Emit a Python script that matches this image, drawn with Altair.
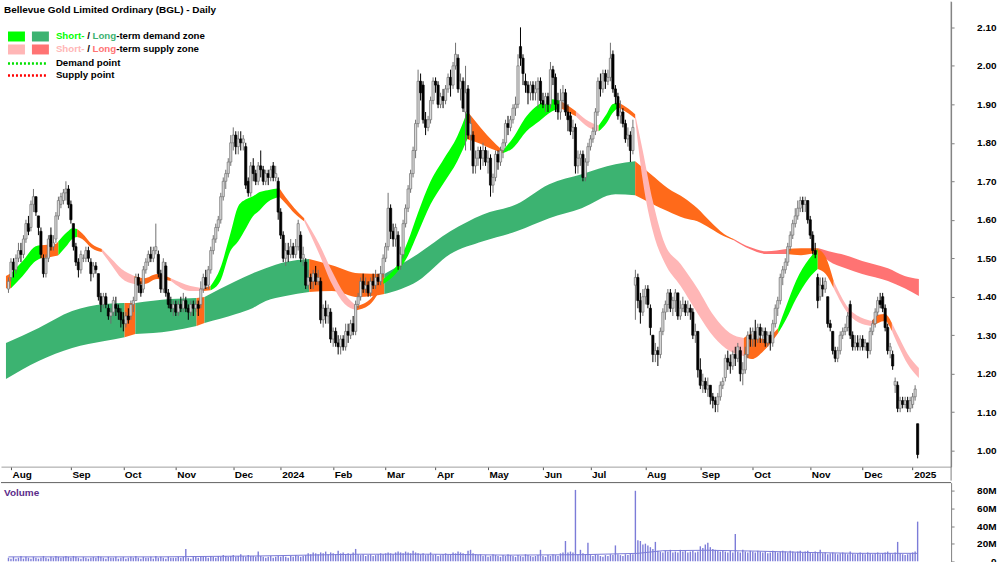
import altair as alt
import pandas as pd

FONT = "Liberation Sans"

# ---------------- daily prices (AUD cents), trading-day index 0 = 31 Jul 2023 ----------------
OPEN = [
    142,145,149,147,150,152,151,155,159,158,164,166,161,157,150,146,150,156,153,155,161,164,165,167,  # Aug 23
    168,164,159,153,149,147,150,150,152,149,146,148,146,140,138,140,137,135,136,138,137,              # Sep
    136,134,133,135,135,138,139,145,143,142,147,149,151,150,152,151,146,142,148,141,138,137,          # Oct
    138,136,138,137,139,137,136,138,137,138,138,142,145,143,147,152,155,158,160,166,170,172,          # Nov
    175,180,182,179,181,180,179,170,167,174,172,170,174,173,170,172,171,174,171,                      # Dec
    170,162,156,150,152,151,153,151,153,156,150,149,143,145,144,146,144,144,134,137,135,              # Jan 24
    136,129,131,128,127,129,127,131,130,133,131,138,140,144,142,143,141,144,143,145,144,              # Feb
    146,150,153,163,157,155,156,148,151,159,163,168,172,178,185,196,195,186,184,186,                  # Mar
    191,196,195,190,192,191,194,197,195,200,202,194,196,188,194,182,182,174,176,178,                  # Apr
    176,178,175,176,169,171,177,175,178,180,185,184,186,189,190,205,202,196,195,193,195,193,194,      # May
    196,191,190,192,190,199,197,190,188,191,193,188,187,183,184,174,176,177,171,                      # Jun
    175,179,181,183,188,196,194,198,196,197,203,194,192,187,188,185,181,182,178,143,145,139,136,      # Jul
    140,142,137,130,125,126,125,131,136,138,141,137,139,141,135,137,138,136,137,136,130,131,          # Aug
    121,117,118,116,117,114,113,112,114,117,119,124,123,122,125,124,126,120,121,125,130,              # Sep
    129,131,129,132,130,131,128,130,128,133,137,139,145,147,149,153,156,159,161,163,165,164,165,      # Oct
    160,156,152,145,140,143,142,140,133,131,126,124,126,130,131,132,138,130,127,128,127,              # Nov
    129,127,128,126,131,133,136,139,140,137,132,126,125,117,117,111,113,112,113,111,                  # Dec
    112,114,107,                                                                                      # Jan 25
]
HIGH = [
    145,150,150,151,154,154,156,160,161,165,168,166,161,158,151,151,156,158,156,162,166,167,168,170,
    169,165,159,154,150,152,151,153,153,150,149,149,146,141,141,141,138,137,140,140,138,
    137,136,136,137,139,140,146,146,144,148,150,152,153,153,159,152,147,150,149,142,140,139,
    139,139,140,141,140,138,139,139,139,139,144,146,147,148,153,156,159,161,167,171,173,176,
    182,184,183,183,183,182,180,171,175,176,173,175,178,174,173,173,174,175,174,
    171,163,157,154,154,155,154,155,160,157,153,150,147,146,147,148,147,145,138,139,138,
    137,132,132,130,130,130,133,133,134,135,139,141,145,146,145,144,145,146,147,146,148,
    151,154,167,164,159,159,157,153,160,164,169,173,179,186,199,198,196,188,187,192,
    197,197,196,193,194,195,198,199,201,206,203,198,197,200,195,187,183,178,179,179,
    180,179,178,177,172,178,178,179,181,186,187,187,190,192,203,210,203,198,196,196,196,196,197,
    197,193,193,193,201,200,198,193,194,195,194,190,188,186,185,178,178,178,176,
    180,182,184,189,197,198,199,199,199,206,204,195,193,191,189,186,184,183,186,147,146,141,142,
    143,143,138,130,128,127,132,137,139,142,142,140,142,141,139,140,139,139,138,137,133,131,
    124,120,119,119,117,115,114,115,118,119,125,126,125,126,127,128,127,123,127,131,132,
    132,134,133,133,132,132,131,131,134,138,140,146,148,150,154,157,160,163,165,166,166,166,165,
    161,157,154,146,145,145,145,140,134,131,127,127,131,132,133,136,139,131,130,130,130,
    130,129,128,132,134,137,140,141,141,138,133,128,126,119,118,114,114,114,114,114,
    115,117,107,
]
LOW = [
    141,144,145,146,149,149,150,154,156,157,162,161,156,150,145,145,149,152,152,154,160,163,164,165,
    163,159,152,148,145,146,149,149,149,144,145,146,139,136,137,137,134,133,135,135,134,
    132,131,132,133,134,136,139,141,140,141,146,148,149,149,151,145,141,141,140,137,136,135,
    135,135,136,136,136,134,135,135,136,135,137,141,142,142,146,151,154,157,159,165,168,171,
    174,178,177,177,178,178,168,166,166,170,169,169,171,169,169,169,170,170,170,
    160,155,149,148,149,150,150,150,152,149,148,142,142,142,142,143,143,133,132,133,133,
    128,127,127,125,125,126,126,128,129,130,130,137,139,141,141,140,140,142,142,143,143,
    145,149,152,155,153,153,147,147,150,158,162,167,171,176,184,191,185,182,183,185,
    190,193,189,189,189,190,193,192,194,199,193,191,188,178,181,178,172,172,174,173,
    174,174,172,166,167,170,173,174,176,179,182,183,185,187,189,200,195,193,190,191,191,191,189,
    190,189,188,188,189,195,188,186,186,189,187,183,182,181,172,172,174,170,170,
    174,178,180,182,187,192,193,194,195,196,193,190,186,185,184,180,179,175,177,134,137,133,135,
    138,137,130,123,123,122,124,130,134,136,136,135,136,134,134,136,135,135,134,129,128,119,
    116,115,115,114,112,111,110,110,113,116,118,121,120,121,122,123,118,117,120,124,127,
    127,127,128,128,128,127,127,126,127,132,135,138,143,146,148,152,155,158,160,162,162,162,159,
    155,151,150,137,139,140,141,132,131,125,123,123,125,129,130,131,129,126,126,126,126,
    126,126,124,125,130,132,135,137,136,131,125,124,121,115,110,110,111,111,110,110,
    111,113,98,
]
CLOSE = [
    144,149,147,150,152,151,155,159,157,164,166,162,158,151,146,150,155,153,154,161,165,166,167,168,
    164,160,153,149,147,151,150,152,150,146,148,147,140,138,140,138,135,136,139,137,136,
    134,133,135,134,138,139,145,143,141,147,149,151,150,152,153,146,142,149,141,138,137,138,
    136,138,137,139,137,136,138,137,138,137,142,145,143,147,152,155,158,160,166,170,172,175,
    180,182,179,181,180,181,169,167,174,172,170,174,173,170,172,171,173,171,172,
    162,156,150,152,151,153,151,153,159,150,151,143,145,144,146,144,145,134,137,135,137,
    129,131,128,127,129,127,131,130,133,131,138,140,144,142,143,141,144,143,145,144,146,
    150,153,163,157,155,158,148,151,159,163,168,172,178,185,196,193,186,184,186,191,
    196,195,190,192,191,194,197,195,200,203,194,196,189,193,182,185,174,176,178,176,
    178,175,176,169,171,177,175,178,180,185,184,186,189,190,200,202,198,195,193,195,193,194,196,
    191,190,192,190,199,197,190,188,191,193,188,186,183,184,174,176,177,171,175,
    179,181,183,188,196,194,198,196,197,202,194,192,187,188,185,181,182,178,184,145,139,136,140,
    142,138,132,125,126,125,131,136,138,141,137,139,141,135,137,138,136,137,136,130,131,121,
    117,118,116,117,114,113,112,114,117,118,124,123,122,125,124,127,120,121,125,130,129,
    131,129,132,130,131,128,130,128,133,137,139,145,147,149,153,156,159,161,163,165,164,165,160,
    156,152,151,139,143,142,144,133,132,126,124,126,130,131,132,135,130,127,128,127,129,
    127,128,126,131,133,136,139,138,137,132,126,127,122,118,111,113,112,113,111,113,
    114,116,99,
]
# daily volume, millions of shares
VOLUME_M = [
    4,3,5,3,4,6,3,5,4,3,5,4,3,4,6,4,3,5,4,6,5,4,5,6,
    5,4,6,5,4,3,5,4,3,4,5,4,6,5,4,3,5,4,4,5,3,
    4,5,3,4,5,4,6,4,3,5,4,4,5,3,6,4,5,4,3,5,4,4,
    4,5,4,5,14,4,3,6,5,4,5,6,5,4,6,5,4,6,5,7,6,5,
    6,7,5,6,8,6,5,7,6,6,5,11,6,5,4,5,6,4,5,
    6,5,6,5,4,6,5,7,6,5,6,7,9,8,10,9,8,10,9,11,8,
    10,9,8,12,9,10,8,9,8,10,14,8,7,8,6,7,8,6,7,8,9,
    8,9,10,9,8,10,11,10,9,11,10,9,12,10,9,8,9,7,8,10,
    7,8,6,7,8,9,7,8,10,9,11,10,9,8,12,13,9,8,7,8,
    6,7,5,6,8,7,6,5,7,6,8,7,6,5,7,6,5,8,7,6,5,6,7,
    13,6,5,7,6,8,7,6,9,10,23,10,11,10,81,8,13,9,8,
    21,7,6,8,7,6,5,7,6,8,7,18,8,7,6,8,7,9,8,80,24,23,19,
    20,18,16,14,22,12,11,10,12,11,13,10,11,10,13,11,12,10,11,12,10,11,
    17,15,19,21,16,14,13,12,11,12,11,10,12,10,31,11,10,13,11,10,12,
    11,10,12,11,10,11,9,10,12,11,10,11,12,11,10,12,11,10,11,12,10,11,12,
    10,9,11,10,13,9,10,8,9,10,9,8,9,10,9,8,11,9,8,9,10,
    9,8,10,9,8,9,10,8,9,10,11,9,8,10,22,9,8,7,8,9,
    10,11,45,
]
VOL_MA_IDX = [0, 60, 100, 120, 140, 170, 200, 230, 252, 262, 280, 300, 320, 340, 364]
VOL_MA = [5, 5, 6, 7, 8, 8, 7, 7.5, 9, 12, 12.5, 11.5, 10, 9, 9]

MONTH_TICKS = [1, 25, 46, 67, 90, 109, 130, 151, 171, 192, 214, 233, 255, 277, 298, 321, 342, 362]
MONTH_LABELS = ["Aug", "Sep", "Oct", "Nov", "Dec", "2024", "Feb", "Mar", "Apr", "May", "Jun",
                "Jul", "Aug", "Sep", "Oct", "Nov", "Dec", "2025"]
PRICE_TICKS = [1.0, 1.1, 1.2, 1.3, 1.4, 1.5, 1.6, 1.7, 1.8, 1.9, 2.0, 2.1]
VOL_TICKS = [0, 20, 40, 60, 80]
VOL_TICK_LABELS = ["0", "20M", "40M", "60M", "80M"]

# ---------------- short-term zone ribbon (zone = state of the stretch that starts here) ----------------
SHORT_IDX = [-1, 1.0, 5.7, 10.9, 12.9, 18.8, 20.0, 23.5, 25.5, 27.5, 29.5, 33.4, 37.4, 41.3, 45.3,
             50.4, 54.4, 59.5, 65.0, 72.9, 78.1, 80.9, 84.8, 88.8, 92.0, 95.1, 97.9, 100.6, 103.8,
             108.5, 110.9, 114.5, 118.4, 124.4, 129.5, 134.6, 139.4, 145.3, 150.1, 156.0, 159.9,
             163.9, 169.0, 174.2, 179.7, 183.7, 187.6, 192.8, 197.9, 201.9, 207.4, 212.5, 217.7,
             221.2, 224.4, 227.2, 232.3, 236.3, 239.4, 241.8, 244.2, 248.1, 250.9, 254.0, 258.0,
             262.8, 269.1, 275.8, 282.5, 288.8, 294.4, 297.6, 302.3, 308.2, 311.4, 315.3, 320.5,
             324.0, 327.2, 330.4, 336.3, 341.8, 345.8, 348.2, 350.9, 353.7, 356.9, 360.0, 364.5]
SHORT_UPPER = [1.454, 1.461, 1.493, 1.531, 1.534, 1.537, 1.544, 1.568, 1.578, 1.576, 1.565, 1.537,
               1.524, 1.498, 1.472, 1.454, 1.448, 1.459, 1.448, 1.428, 1.422, 1.428, 1.474, 1.563,
               1.635, 1.653, 1.661, 1.672, 1.677, 1.682, 1.659, 1.630, 1.604, 1.537, 1.467, 1.407,
               1.376, 1.397, 1.446, 1.487, 1.544, 1.617, 1.700, 1.757, 1.817, 1.882, 1.851, 1.812,
               1.780, 1.812, 1.869, 1.900, 1.913, 1.908, 1.895, 1.882, 1.856, 1.845, 1.874, 1.900,
               1.905, 1.889, 1.874, 1.778, 1.648, 1.537, 1.485, 1.422, 1.350, 1.306, 1.293, 1.303,
               1.290, 1.319, 1.376, 1.441, 1.498, 1.524, 1.503, 1.441, 1.371, 1.345, 1.337, 1.353,
               1.355, 1.332, 1.290, 1.251, 1.215]
SHORT_LOWER = [1.422, 1.422, 1.454, 1.493, 1.500, 1.506, 1.508, 1.534, 1.550, 1.555, 1.550, 1.526,
               1.516, 1.482, 1.448, 1.433, 1.433, 1.446, 1.441, 1.415, 1.415, 1.417, 1.441, 1.518,
               1.544, 1.578, 1.609, 1.625, 1.646, 1.659, 1.643, 1.617, 1.596, 1.511, 1.433, 1.381,
               1.365, 1.384, 1.433, 1.467, 1.506, 1.565, 1.640, 1.695, 1.752, 1.809, 1.801, 1.786,
               1.773, 1.786, 1.830, 1.856, 1.882, 1.889, 1.879, 1.869, 1.840, 1.830, 1.851, 1.877,
               1.892, 1.877, 1.863, 1.700, 1.570, 1.487, 1.428, 1.358, 1.295, 1.259, 1.246, 1.238,
               1.259, 1.306, 1.342, 1.394, 1.448, 1.472, 1.459, 1.422, 1.355, 1.329, 1.324, 1.332,
               1.337, 1.311, 1.264, 1.225, 1.189]
SHORT_ZONE = ["mx", "sd", "sd", "sd", "mx", "mx", "sd", "sd", "sd", "mx", "mx", "mx", "ss", "ss", "ss",
              "mx", "mx", "mx", "ss", "ss", "mx", "sd", "sd", "sd", "sd", "sd", "sd", "sd", "sd",
              "mx", "mx", "mx", "ss", "ss", "ss", "ss", "mx", "mx", "sd", "sd", "sd",
              "sd", "sd", "sd", "sd", "mx", "mx", "mx", "sd", "sd", "sd", "sd", "sd",
              "mx", "mx", "ss", "ss", "sd", "sd", "sd", "mx", "mx", "ss", "ss", "ss",
              "ss", "ss", "ss", "ss", "ss", "mx", "mx", "mx", "sd", "sd", "sd", "sd",
              "mx", "mx", "ss", "ss", "ss", "mx", "mx", "mx", "ss", "ss", "ss", "ss"]

# ---------------- long-term zone ribbon ----------------
LONG_IDX = [-1, 12.1, 25.5, 38.5, 46.5, 50.8, 65.0, 75.3, 78.5, 91.1, 97.9, 103.0, 110.9, 120.4,
            129.5, 140.2, 150.5, 163.9, 176.9, 190.0, 203.4, 216.5, 229.5, 243.0, 250.9, 257.2,
            264.0, 270.7, 275.8, 280.9, 286.5, 290.4, 296.8, 303.5, 311.4, 317.3, 324.4, 328.4,
            335.1, 341.8, 352.1, 358.8, 364.5]
LONG_UPPER = [1.280, 1.319, 1.363, 1.381, 1.384, 1.384, 1.394, 1.397, 1.399, 1.441, 1.461, 1.474,
              1.490, 1.498, 1.482, 1.461, 1.459, 1.511, 1.570, 1.614, 1.640, 1.692, 1.718, 1.744,
              1.752, 1.718, 1.682, 1.656, 1.630, 1.596, 1.563, 1.550, 1.529, 1.518, 1.524, 1.526,
              1.526, 1.518, 1.508, 1.493, 1.474, 1.454, 1.446]
LONG_LOWER = [1.186, 1.233, 1.267, 1.285, 1.295, 1.303, 1.311, 1.324, 1.332, 1.355, 1.371, 1.389,
              1.402, 1.412, 1.415, 1.399, 1.407, 1.441, 1.511, 1.544, 1.570, 1.604, 1.630, 1.666,
              1.664, 1.643, 1.622, 1.604, 1.596, 1.578, 1.557, 1.547, 1.524, 1.511, 1.511, 1.508,
              1.516, 1.493, 1.474, 1.459, 1.441, 1.422, 1.402]
LONG_ZONE = ["ld", "ld", "ld", "ld", "mx", "ld", "ld", "mx", "ld", "ld", "ld", "ld", "ld", "mx",
             "mx", "mx", "ld", "ld", "ld", "ld", "ld", "ld", "ld", "ld", "mx", "mx",
             "mx", "mx", "mx", "mx", "mx", "ls", "ls", "ls", "mx", "mx", "ls", "ls",
             "ls", "ls", "ls", "ls", "ls"]

ZONE_DOMAIN = ["sd", "ld", "ss", "ls", "mx"]
ZONE_RANGE = ["#00FF00", "#3CB371", "#FFB6B6", "#FF7373", "#FF6A1A"]
VOL_COLOR = "#7C7CD8"

# ---------------- frames ----------------
n = len(CLOSE)
candles = pd.DataFrame({
    "i": list(range(n)),
    "o": [v / 100 for v in OPEN],
    "h": [v / 100 for v in HIGH],
    "l": [v / 100 for v in LOW],
    "c": [v / 100 for v in CLOSE],
})
candles["dir"] = ["up" if c >= o else "down" for o, c in zip(candles["o"], candles["c"])]
vol = pd.DataFrame({"i": list(range(len(VOLUME_M))), "v": VOLUME_M})
vol_ma = pd.DataFrame({"i": VOL_MA_IDX, "v": VOL_MA})


def build_band(idx, up, lo, zone, name):
    rows, seg = [], 0
    for k in range(len(idx)):
        if k > 0 and zone[k] != zone[k - 1]:
            rows.append(dict(seg=f"{name}{seg}", i=idx[k], upper=up[k], lower=lo[k], zone=zone[k - 1]))
            seg += 1
        rows.append(dict(seg=f"{name}{seg}", i=idx[k], upper=up[k], lower=lo[k], zone=zone[k]))
    return pd.DataFrame(rows)


short_df = build_band(SHORT_IDX, SHORT_UPPER, SHORT_LOWER, SHORT_ZONE, "s")
long_df = build_band(LONG_IDX, LONG_UPPER, LONG_LOWER, LONG_ZONE, "l")

W, H_PRICE, H_VOL = 952, 466, 82
x_scale = alt.Scale(domain=[-0.99, 375.4], nice=False, zero=False)
y_scale = alt.Scale(domain=[0.9585, 2.167], nice=False, zero=False)
zone_scale = alt.Scale(domain=ZONE_DOMAIN, range=ZONE_RANGE)
dir_stroke = alt.Scale(domain=["up", "down"], range=["#707070", "#000000"])

label_expr = ("[" + ",".join(f"'{m}'" for m in MONTH_LABELS) + "][indexof(["
              + ",".join(str(t) for t in MONTH_TICKS) + "], datum.value)]")

x_axis = alt.Axis(values=MONTH_TICKS, labelExpr=label_expr, title=None, grid=False,
                  domainColor="#A0A0A0", tickColor="#555555", tickSize=3, labelAlign="left",
                  labelBaseline="top", labelPadding=0, labelOffset=1, labelFont=FONT,
                  labelFontWeight="bold", labelFontSize=10, labelColor="#000000",
                  labelOverlap=False, labelFlush=False, minExtent=14, maxExtent=14)
y_axis = alt.Axis(orient="right", values=PRICE_TICKS, format=".2f", title=None, grid=False,
                  domainColor="#808080", tickColor="#808080", tickSize=3, labelAlign="right",
                  labelPadding=42, labelFont=FONT, labelFontWeight="bold", labelFontSize=10,
                  labelColor="#000000", labelOverlap=False)

# only the first layer carries the axis definitions; the others leave the axis unspecified
long_area = alt.Chart(long_df).mark_area(interpolate="monotone", clip=True).encode(
    x=alt.X("i:Q", scale=x_scale, axis=x_axis),
    y=alt.Y("upper:Q", scale=y_scale, axis=y_axis, stack=False),
    y2="lower:Q",
    color=alt.Color("zone:N", scale=zone_scale, legend=None),
    detail="seg:N",
)
short_area = alt.Chart(short_df).mark_area(interpolate="monotone", clip=True).encode(
    x=alt.X("i:Q", scale=x_scale),
    y=alt.Y("upper:Q", scale=y_scale, stack=False),
    y2="lower:Q",
    color=alt.Color("zone:N", scale=zone_scale, legend=None),
    detail="seg:N",
)
wicks = alt.Chart(candles).mark_rule(strokeWidth=1).encode(
    x=alt.X("i:Q", scale=x_scale),
    y=alt.Y("l:Q", scale=y_scale),
    y2="h:Q",
    stroke=alt.Stroke("dir:N", scale=dir_stroke, legend=None),
)
bodies = alt.Chart(candles).mark_bar(width=2.2, strokeWidth=0.7).encode(
    x=alt.X("i:Q", scale=x_scale),
    y=alt.Y("o:Q", scale=y_scale),
    y2="c:Q",
    fill=alt.Fill("dir:N", scale=alt.Scale(domain=["up", "down"], range=["#D8D8D8", "#000000"]),
                  legend=None),
    stroke=alt.Stroke("dir:N", scale=dir_stroke, legend=None),
)

one = pd.DataFrame({"k": [0]})


def txt(text, x, y, color="#000000", size=10):
    return alt.Chart(pd.DataFrame({"t": [text]})).mark_text(
        align="left", baseline="alphabetic", font=FONT, fontWeight="bold", fontSize=size, color=color
    ).encode(x=alt.value(x), y=alt.value(y), text="t:N")


def box(x1, x2, y1, y2, color):
    return alt.Chart(one).mark_rect(color=color).encode(
        x=alt.value(x1), x2=alt.value(x2), y=alt.value(y1), y2=alt.value(y2))


def dotted(y, color):
    return alt.Chart(one).mark_rule(color=color, strokeWidth=2.5, strokeDash=[2, 2]).encode(
        x=alt.value(7), x2=alt.value(45), y=alt.value(y))


LS = 9.7
legend = [
    txt("Bellevue Gold Limited Ordinary (BGL) - Daily", 3, 11),
    box(7, 24, 30, 40, "#00FF00"), box(31, 48, 30, 40, "#3CB371"),
    box(7, 24, 43, 53, "#FFB6B6"), box(31, 48, 43, 53, "#FF7373"),
    txt("Short-", 55, 38, "#00FF00", LS), txt("/", 86.3, 38, size=LS),
    txt("Long", 91.7, 38, "#3CB371", LS), txt("-term demand zone", 115.4, 38, size=LS),
    txt("Short-", 55, 51, "#FFB6B6", LS), txt("/", 86.3, 51, size=LS),
    txt("Long", 91.7, 51, "#FF7373", LS), txt("-term supply zone", 115.4, 51, size=LS),
    dotted(62, "#00E000"), dotted(74, "#FF0000"),
    txt("Demand point", 55, 65, size=LS), txt("Supply point", 55, 77, size=LS),
]
right_line = alt.Chart(one).mark_rule(color="#808080").encode(
    x=alt.value(W), y=alt.value(0), y2=alt.value(H_PRICE + 14))

price = alt.layer(long_area, short_area, wicks, bodies, right_line, *legend).properties(
    width=W, height=H_PRICE)

# ---------------- volume panel ----------------
vol_y = alt.Scale(domain=[-3.6, 89.3], nice=False, zero=False)
vol_label_expr = ("[" + ",".join(f"'{s}'" for s in VOL_TICK_LABELS) + "][indexof(["
                  + ",".join(str(t) for t in VOL_TICKS) + "], datum.value)]")
vol_axis = alt.Axis(orient="right", values=VOL_TICKS, tickCount=5, title=None, grid=False,
                    labelExpr=vol_label_expr,
                    domainColor="#808080", tickColor="#808080", tickSize=3, labelAlign="right",
                    labelPadding=42, labelFont=FONT, labelFontWeight="bold", labelFontSize=10,
                    labelColor="#000000", labelOverlap=False, labelFlush=False, labelBound=False)
vol_bars = alt.Chart(vol).mark_bar(width=1.4, color=VOL_COLOR).encode(
    x=alt.X("i:Q", scale=x_scale, axis=None),
    y=alt.Y("v:Q", scale=vol_y, axis=vol_axis),
)
vol_line = alt.Chart(vol_ma).mark_line(color=VOL_COLOR, strokeWidth=1).encode(
    x=alt.X("i:Q", scale=x_scale, axis=None),
    y=alt.Y("v:Q", scale=vol_y, axis=vol_axis),
)
top_line = alt.Chart(one).mark_rule(color="#606060").encode(
    x=alt.value(0), x2=alt.value(W), y=alt.value(0))
vol_title = txt("Volume", 3, 13, "#5B2C8A")
volume = alt.layer(vol_bars, vol_line, top_line, vol_title).properties(width=W, height=H_VOL)

chart = alt.vconcat(price, volume, spacing=0).properties(
    padding={"left": 0, "top": 0, "right": 3, "bottom": 0}, background="#FFFFFF"
).configure_view(stroke="transparent")

chart.save("out.html", embed_options={"renderer": "svg", "actions": False})
